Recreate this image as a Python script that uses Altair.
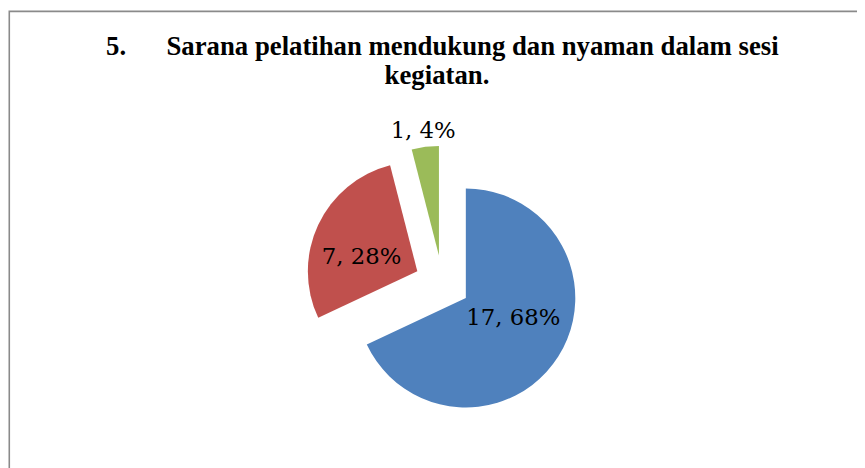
import altair as alt
import pandas as pd

# ---- data ----
categories = ["Kategori 1", "Kategori 2", "Kategori 3"]
counts = [17, 7, 1]
percents = [68, 28, 4]
colors = ["#4F81BD", "#C0504D", "#9BBB59"]

# ---- style / layout constants ----
CX, CY = 438.5, 275.5      # pie centre (view px)
R = 110.5                  # pie radius
EXPLODE = 28               # explosion distance of every slice
label_r = [52, 58, 127]    # distance of each label from its slice apex
label_nudge = [-9.7, -11.4, 0.0]  # degrees, label angle relative to slice bisector

df = pd.DataFrame({
    "cat": categories,
    "count": counts,
    "pct": percents,
    "order": [0, 1, 2],
    "lr": label_r,
    "nudge": label_nudge,
})

base = alt.Chart(df).transform_joinaggregate(
    total="sum(count)"
).transform_window(
    cum="sum(count)", sort=[alt.SortField("order")], frame=[None, 0]
).transform_calculate(
    start="2*PI*(datum.cum-datum.count)/datum.total",
    end="2*PI*datum.cum/datum.total",
).transform_calculate(
    mid="(datum.start+datum.end)/2",
).transform_calculate(
    px=f"{CX}+{EXPLODE}*sin(datum.mid)",
    py=f"{CY}-{EXPLODE}*cos(datum.mid)",
    la="datum.mid+datum.nudge*PI/180",
    label="datum.count + ', ' + datum.pct + '%'",
).transform_calculate(
    lx="datum.px+datum.lr*sin(datum.la)",
    ly="datum.py-datum.lr*cos(datum.la)",
)

arcs = base.mark_arc(radius=R, stroke=None).encode(
    theta=alt.Theta("start:Q", scale=None, stack=None),
    theta2="end:Q",
    x=alt.X("px:Q", scale=None),
    y=alt.Y("py:Q", scale=None),
    color=alt.Color("cat:N", scale=alt.Scale(domain=categories, range=colors), legend=None),
)

labels = base.mark_text(
    font="DejaVu Serif", fontSize=23, color="black", align="center", baseline="middle"
).encode(
    x=alt.X("lx:Q", scale=None),
    y=alt.Y("ly:Q", scale=None),
    text="label:N",
)

one = alt.Data(values=[{}])
title_num = alt.Chart(one).mark_text(
    text="5.", font="Liberation Serif", fontSize=27, fontWeight="bold",
    align="left", baseline="alphabetic", color="black"
).encode(x=alt.value(99), y=alt.value(45))
title_l1 = alt.Chart(one).mark_text(
    text="Sarana pelatihan mendukung dan nyaman dalam sesi", font="Liberation Serif",
    fontSize=27, fontWeight="bold", align="left", baseline="alphabetic", color="black"
).encode(x=alt.value(160), y=alt.value(45))
title_l2 = alt.Chart(one).mark_text(
    text="kegiatan.", font="Liberation Serif", fontSize=27, fontWeight="bold",
    align="center", baseline="alphabetic", color="black"
).encode(x=alt.value(433), y=alt.value(75))

border = alt.Chart(one).mark_rect(
    filled=False, stroke="#8a8a8a", strokeWidth=1.6
).encode(x=alt.value(1.3), x2=alt.value(1200), y=alt.value(1.2), y2=alt.value(1200))

chart = alt.layer(border, arcs, labels, title_num, title_l1, title_l2).properties(
    width=857, height=460, padding=0,
    autosize=alt.AutoSizeParams(type="none"),
).configure_view(stroke=None)

chart.save("out.html", embed_options={"renderer": "svg", "actions": False})
